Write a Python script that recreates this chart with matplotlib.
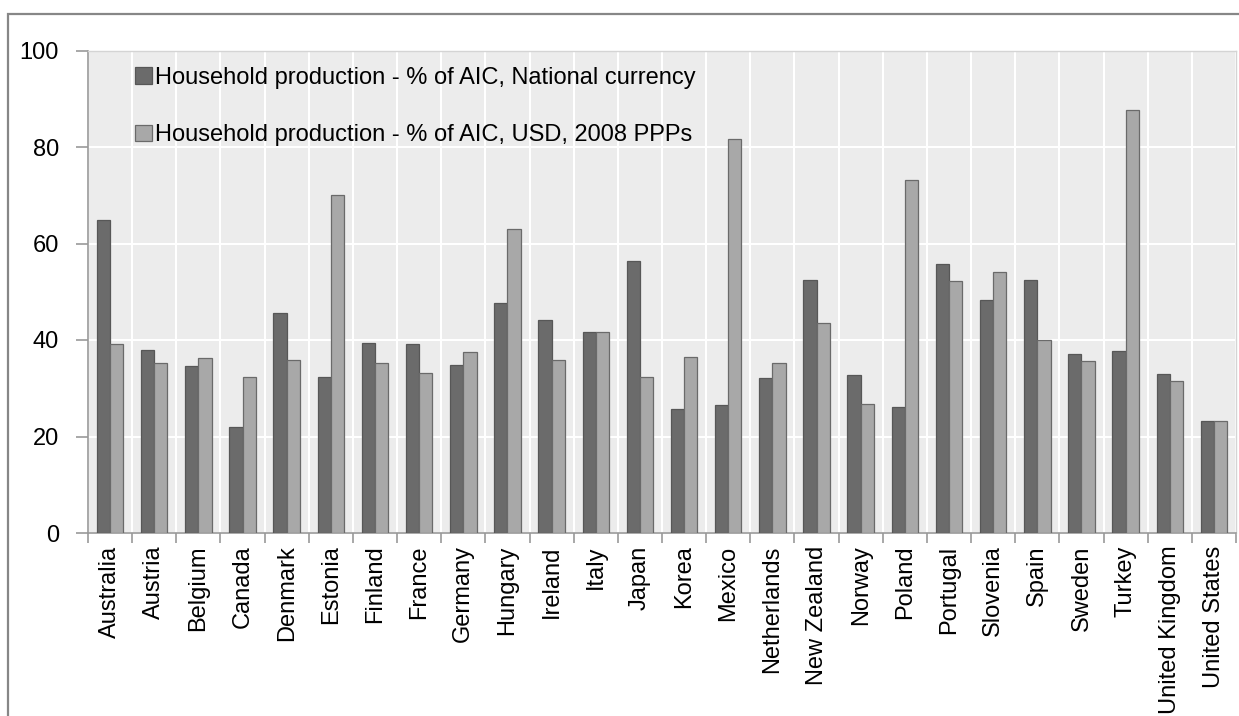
import matplotlib.pyplot as plt
import matplotlib.patches as mpatches
import numpy as np

plt.rcParams['font.family'] = ['Liberation Sans', 'DejaVu Sans']

countries = ['Australia', 'Austria', 'Belgium', 'Canada', 'Denmark', 'Estonia',
             'Finland', 'France', 'Germany', 'Hungary', 'Ireland', 'Italy',
             'Japan', 'Korea', 'Mexico', 'Netherlands', 'New Zealand', 'Norway',
             'Poland', 'Portugal', 'Slovenia', 'Spain', 'Sweden', 'Turkey',
             'United Kingdom', 'United States']

national = [64.9, 38.0, 34.6, 22.0, 45.5, 32.4, 39.4, 39.1, 34.9, 47.7,
            44.2, 41.7, 56.4, 25.8, 26.6, 32.2, 52.5, 32.7, 26.1, 55.7,
            48.2, 52.4, 37.2, 37.8, 32.9, 23.3]

usd_ppp = [39.2, 35.3, 36.2, 32.4, 35.8, 70.0, 35.3, 33.2, 37.5, 63.0,
           35.9, 41.7, 32.4, 36.4, 81.7, 35.3, 43.6, 26.8, 73.2, 52.2,
           54.0, 39.9, 35.6, 87.6, 31.4, 23.3]

labels = ['Household production - % of AIC, National currency',
          'Household production - % of AIC, USD, 2008 PPPs']

dark = '#6b6b6b'
light = '#a8a8a8'

W, H = 1239, 716
fig = plt.figure(figsize=(W / 100, H / 100), dpi=100)

# outer chart border (top and left visible, rest cut off)
fig.add_artist(mpatches.Rectangle((8 / W, -0.1), 1.2, (H - 14) / H + 0.1,
                                  transform=fig.transFigure, fill=False,
                                  edgecolor='#878787', linewidth=1.6))

ax = fig.add_axes([88 / W, 1 - 533 / H, 1148 / W, 482.5 / H])
ax.set_facecolor('#ececec')

x = np.arange(len(countries))
w = 0.3
ax.bar(x - w / 2, national, w, color=dark, edgecolor='#575757',
       linewidth=0.9, label=labels[0], zorder=3)
ax.bar(x + w / 2, usd_ppp, w, color=light, edgecolor='#6a6a6a',
       linewidth=0.9, label=labels[1], zorder=3)

ax.set_xlim(-0.5, len(countries) - 0.5)
ax.set_ylim(0, 100)
ax.set_yticks(np.arange(0, 101, 20))

# ticks + vertical grid on category boundaries, labels on centres
ax.set_xticks(np.arange(len(countries) + 1) - 0.5)
ax.set_xticklabels([])
ax.set_xticks(x, minor=True)
ax.set_xticklabels(countries, minor=True, rotation=90, fontsize=17,
                   va='top', ha='center')
ax.tick_params(axis='x', which='minor', length=0, pad=9)
ax.tick_params(axis='x', which='major', length=7, color='#999999', width=1.2)
ax.tick_params(axis='y', length=9, color='#999999', width=1.2, pad=12,
               labelsize=17)
ax.grid(True, which='major', color='white', linewidth=1.5, zorder=0)
ax.set_axisbelow(True)

for s in ['left', 'bottom']:
    ax.spines[s].set_color('#999999')
    ax.spines[s].set_linewidth(1.2)
for s in ['top', 'right']:
    ax.spines[s].set_color('#d4d4d4')
    ax.spines[s].set_linewidth(1.0)

ax.legend(loc='upper left', bbox_to_anchor=(0.041, 0.966), frameon=False,
          fontsize=17, handlelength=0.7, handleheight=0.7,
          handletextpad=0.15, labelspacing=1.5, borderpad=0,
          borderaxespad=0)

fig.savefig('out.png', dpi=100)
